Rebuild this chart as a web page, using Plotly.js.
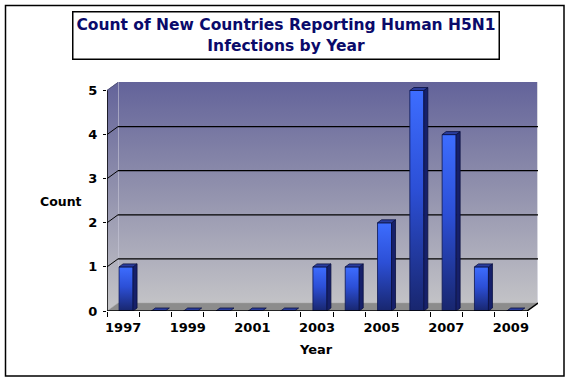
<!DOCTYPE html>
<html>
<head>
<meta charset="utf-8">
<script src="https://cdn.plot.ly/plotly-3.0.1.min.js"></script>
<style>
html,body{margin:0;padding:0;background:#fff;}
#chart{width:570px;height:381px;}
</style>
</head>
<body>
<div id="chart"></div>
<script>
// ---- data ----
var years = ["1997","1998","1999","2000","2001","2002","2003","2004","2005","2006","2007","2008","2009"];
var counts = [1, 0, 0, 0, 0, 0, 1, 1, 2, 5, 4, 1, 0];
var yTicks = [0, 1, 2, 3, 4, 5];
var xLabelYears = ["1997","1999","2001","2003","2005","2007","2009"];
var titleText = "Count of New Countries Reporting Human H5N1<br>Infections by Year";
var yTitle = "Count";
var xTitle = "Year";

// ---- geometry (style) ----
var W = 570, H = 381;
var mL = 107, mR = 32, mT = 82, mB = 70;
var plotW = W - mL - mR, plotH = H - mT - mB;
var n = years.length;
var pxX = 420 / n;              // px per category
var pxY = 44.1;                 // px per unit
var xMin = -0.5, xMax = xMin + plotW / pxX;
var yMin = 0, yMax = plotH / pxY;
var depthX = 11 / pxX, depthY = 8 / pxY;   // back wall offset
var barDX = 4 / pxX, barDY = 3 / pxY;      // bar depth
var barW = 14 / pxX, barOff = 0.09;

var idx = years.map(function(_, i){ return i; });
var barX = idx.map(function(i){ return i + barOff; });

// side and top faces, built from the data
var sideX = [], sideY = [], topX = [], topY = [];
counts.forEach(function(v, i){
  var r = i + barOff + barW/2, l = i + barOff - barW/2;
  if (v > 0) {
    sideX.push(r, r + barDX, r + barDX, r, r, null);
    sideY.push(0, barDY, v + barDY, v, 0, null);
  }
  topX.push(l, r, r + barDX, l + barDX, l, null);
  topY.push(v, v, v + barDY, v + barDY, v, null);
});

// wall background image (gradient) as data URI
var wallSvg = '<svg xmlns="http://www.w3.org/2000/svg" width="'+plotW+'" height="'+plotH+'" viewBox="0 0 '+plotW+' '+plotH+'" preserveAspectRatio="none">' +
  '<defs><linearGradient id="g" x1="0" y1="0" x2="0" y2="'+plotH+'" gradientUnits="userSpaceOnUse">' +
  '<stop offset="0" stop-color="#63639a"/><stop offset="0.45" stop-color="#8f8fac"/><stop offset="1" stop-color="#c6c6c8"/></linearGradient></defs>' +
  '<polygon points="0,8 11,0 11,'+(plotH-8)+' 0,'+plotH+'" fill="url(#g)"/>' +
  '<rect x="11" y="0" width="'+(plotW-11)+'" height="'+(plotH-8)+'" fill="url(#g)"/>' +
  '<line x1="11.5" y1="0" x2="11.5" y2="'+(plotH-8)+'" stroke="#c8c8d8" stroke-width="1" opacity="0.6"/>' +
  '<line x1="'+(plotW-0.5)+'" y1="0" x2="'+(plotW-0.5)+'" y2="'+(plotH-8)+'" stroke="#d8d8e0" stroke-width="1"/>' +
  '</svg>';
var wallUri = 'data:image/svg+xml;base64,' + btoa(wallSvg);

var shapes = [];
// floor
shapes.push({type:'path', xref:'x', yref:'y', layer:'between',
  path:'M '+xMin+',0 L '+(xMin+n)+',0 L '+(xMin+n+depthX)+','+depthY+' L '+(xMin+depthX)+','+depthY+' Z',
  fillcolor:'#8c8c8c', line:{color:'#a0a0a0', width:0.5}});
// gridlines on back wall and connectors on side wall
yTicks.forEach(function(t){
  if (t > 0 && t < 5) {
    shapes.push({type:'line', xref:'x', yref:'y', layer:'between',
      x0:xMin+depthX, x1:xMax, y0:t+depthY, y1:t+depthY, line:{color:'#000', width:1.2}});
    shapes.push({type:'line', xref:'x', yref:'y', layer:'between',
      x0:xMin, x1:xMin+depthX, y0:t, y1:t+depthY, line:{color:'#000', width:1}});
  }
});
// top edge of side wall
shapes.push({type:'line', xref:'x', yref:'y', layer:'between',
  x0:xMin, x1:xMin+depthX, y0:5, y1:5+depthY, line:{color:'#55557a', width:1}});
// y axis line
shapes.push({type:'line', xref:'x', yref:'y', layer:'above',
  x0:xMin, x1:xMin, y0:0, y1:5, line:{color:'#000', width:1.5}});
// x axis line with depth edge
shapes.push({type:'path', xref:'x', yref:'y', layer:'above',
  path:'M '+xMin+',0 L '+(xMin+n)+',0 L '+(xMin+n+depthX)+','+depthY,
  line:{color:'#000', width:1.5}});
// outer border
shapes.push({type:'rect', xref:'paper', yref:'paper',
  x0:(5.5-mL)/plotW, x1:(564-mL)/plotW, y0:(H-mB-376)/plotH, y1:(H-mB-5.5)/plotH,
  line:{color:'#000', width:1.5}, fillcolor:'rgba(0,0,0,0)'});

var halfTicks = [];
for (var k = 0; k <= n; k++) halfTicks.push(k - 0.5);
var labelIdx = xLabelYears.map(function(y){ return years.indexOf(y); });

var data = [
  {type:'bar', x:barX, y:counts, width:barW, xaxis:'x', yaxis:'y',
   marker:{color:'#2748c8', line:{color:'#0d1650', width:0.8}}, hoverinfo:'skip', showlegend:false},
  {type:'scatter', mode:'lines', x:sideX, y:sideY, fill:'toself', fillcolor:'#16206a',
   line:{color:'#0a1040', width:0.8}, hoverinfo:'skip', showlegend:false},
  {type:'scatter', mode:'lines', x:topX, y:topY, fill:'toself', fillcolor:'#2a3c9c',
   line:{color:'#0a1040', width:0.8}, hoverinfo:'skip', showlegend:false},
  // invisible trace to activate tick-only overlay axis
  {type:'scatter', mode:'markers', x:[0], y:[0], xaxis:'x2', yaxis:'y',
   marker:{opacity:0}, hoverinfo:'skip', showlegend:false}
];

var font = 'DejaVu Sans, Verdana, sans-serif';
var layout = {
  width:W, height:H,
  margin:{l:mL, r:mR, t:mT, b:mB},
  paper_bgcolor:'#fff', plot_bgcolor:'#fff',
  showlegend:false,
  xaxis:{range:[xMin, xMax], tickmode:'array', tickvals:labelIdx, ticktext:xLabelYears,
    ticks:'', showgrid:false, zeroline:false, showline:false,
    tickfont:{family:font, size:13, color:'#000', weight:'bold'}, ticklabelstandoff:7, fixedrange:true},
  xaxis2:{overlaying:'x', anchor:'y', side:'bottom', range:[xMin, xMax], tickmode:'array', tickvals:halfTicks,
    showticklabels:false, ticks:'outside', ticklen:5, tickcolor:'#000', tickwidth:1,
    showgrid:false, zeroline:false, showline:false, fixedrange:true},
  yaxis:{range:[yMin, yMax], tickmode:'array', tickvals:yTicks, ticktext:yTicks.map(String),
    ticks:'outside', ticklen:3, tickcolor:'#000', tickwidth:1, showgrid:false, zeroline:false, showline:false,
    tickfont:{family:font, size:13, color:'#000', weight:'bold'}, ticklabelstandoff:3, fixedrange:true},
  images:[{source:wallUri, xref:'x', yref:'y', x:xMin, y:yMax, sizex:xMax-xMin, sizey:yMax-yMin,
    sizing:'stretch', layer:'below', xanchor:'left', yanchor:'top'}],
  shapes:shapes,
  annotations:[
    {text:titleText, xref:'paper', yref:'paper', x:(285.5-mL)/plotW, y:(H-mB-36)/plotH,
     xanchor:'center', yanchor:'middle', showarrow:false, align:'center',
     width:421, height:42, bgcolor:'#fff', bordercolor:'#000', borderwidth:1.5, borderpad:2,
     font:{family:font, size:15.5, color:'#0a0a6a', weight:'bold'}},
    {text:yTitle, xref:'paper', yref:'paper', x:(60.5-mL)/plotW, y:(H-mB-201.5)/plotH,
     xanchor:'center', yanchor:'middle', showarrow:false,
     font:{family:font, size:12.5, color:'#000', weight:'bold'}},
    {text:xTitle, xref:'paper', yref:'paper', x:(316-mL)/plotW, y:(H-mB-349)/plotH,
     xanchor:'center', yanchor:'middle', showarrow:false,
     font:{family:font, size:13, color:'#000', weight:'bold'}}
  ]
};

Plotly.newPlot('chart', data, layout, {staticPlot:true, displayModeBar:false}).then(function(gd){
  // vertical gradient on front faces of bars
  var svg = gd.querySelector('svg.main-svg');
  var ns = 'http://www.w3.org/2000/svg';
  var defs = svg.querySelector('defs') || svg.insertBefore(document.createElementNS(ns,'defs'), svg.firstChild);
  var lg = document.createElementNS(ns, 'linearGradient');
  lg.setAttribute('id', 'barGrad'); lg.setAttribute('x1','0'); lg.setAttribute('y1','0');
  lg.setAttribute('x2','0'); lg.setAttribute('y2','1');
  [['0','#3d6dff'],['0.45','#2c4fd6'],['1','#18266e']].forEach(function(s){
    var st = document.createElementNS(ns,'stop');
    st.setAttribute('offset', s[0]); st.setAttribute('stop-color', s[1]); lg.appendChild(st);
  });
  defs.appendChild(lg);
  gd.querySelectorAll('.barlayer .point path').forEach(function(p){
    p.style.fill = 'url(#barGrad)';
  });
});
</script>
</body>
</html>
